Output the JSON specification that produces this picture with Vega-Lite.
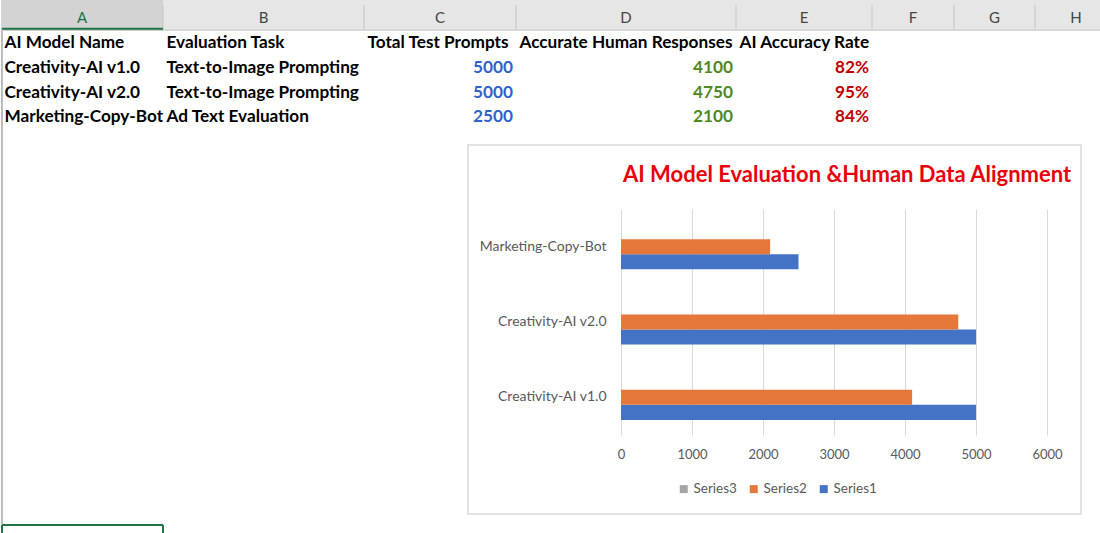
{
  "$schema": "https://vega.github.io/schema/vega-lite/v6.json",
  "width": 1100,
  "height": 533,
  "autosize": {"type": "fit", "contains": "padding"},
  "padding": 0,
  "background": "#ffffff",
  "config": {"view": {"stroke": null}, "font": "Lato"},
  "datasets": {
    "columns": [
      {"c": 1, "letter": "A"}, {"c": 2, "letter": "B"}, {"c": 3, "letter": "C"}, {"c": 4, "letter": "D"},
      {"c": 5, "letter": "E"}, {"c": 6, "letter": "F"}, {"c": 7, "letter": "G"}, {"c": 8, "letter": "H"}
    ],
    "headers": [
      {"c": 1, "label": "AI Model Name"},
      {"c": 2, "label": "Evaluation Task"},
      {"c": 3, "label": "Total Test Prompts"},
      {"c": 4, "label": "Accurate Human Responses"},
      {"c": 5, "label": "AI Accuracy Rate"}
    ],
    "table": [
      {"r": 2, "model": "Creativity-AI v1.0", "task": "Text-to-Image Prompting", "prompts": 5000, "responses": 4100, "rate": 0.82},
      {"r": 3, "model": "Creativity-AI v2.0", "task": "Text-to-Image Prompting", "prompts": 5000, "responses": 4750, "rate": 0.95},
      {"r": 4, "model": "Marketing-Copy-Bot", "task": "Ad Text Evaluation", "prompts": 2500, "responses": 2100, "rate": 0.84}
    ],
    "bars": [
      {"model": "Creativity-AI v1.0", "series": "Series1", "value": 5000},
      {"model": "Creativity-AI v1.0", "series": "Series2", "value": 4100},
      {"model": "Creativity-AI v2.0", "series": "Series1", "value": 5000},
      {"model": "Creativity-AI v2.0", "series": "Series2", "value": 4750},
      {"model": "Marketing-Copy-Bot", "series": "Series1", "value": 2500},
      {"model": "Marketing-Copy-Bot", "series": "Series2", "value": 2100}
    ],
    "one": [{}]
  },
  "layer": [
    {
      "layer": [
        {
          "data": {"name": "columns"},
          "transform": [{"calculate": "datum.c + 1", "as": "c2"}],
          "mark": {"type": "rect"},
          "encoding": {
            "x": {"field": "c", "type": "quantitative", "axis": null, "scale": {"domain": [1,2,3,4,5,6,7,8,9], "range": [0,162,363,515,735,871,953,1034,1116], "nice": false, "zero": false}},
            "x2": {"field": "c2"},
            "y": {"datum": -0.5, "type": "quantitative", "axis": null, "scale": {"domain": [-0.5, 0.5, 20.5], "range": [0, 31, 525], "nice": false, "zero": false}},
            "y2": {"datum": 0.5},
            "fill": {"condition": {"test": "datum.letter === 'A'", "value": "#d3d3d3"}, "value": "#e6e6e6"}
          }
        },
        {
          "data": {"name": "columns"},
          "transform": [{"calculate": "datum.c + 1", "as": "c2"}],
          "mark": {"type": "rule", "color": "#c4c4c4", "strokeWidth": 1},
          "encoding": {
            "x": {"field": "c2", "type": "quantitative", "axis": null, "scale": {"domain": [1,2,3,4,5,6,7,8,9], "range": [0,162,363,515,735,871,953,1034,1116], "nice": false, "zero": false}},
            "y": {"datum": -0.34, "type": "quantitative", "axis": null, "scale": {"domain": [-0.5, 0.5, 20.5], "range": [0, 31, 525], "nice": false, "zero": false}},
            "y2": {"datum": 0.45}
          }
        },
        {
          "data": {"name": "one"},
          "mark": {"type": "rule", "color": "#c8c8c8", "strokeWidth": 1},
          "encoding": {
            "x": {"datum": 1, "type": "quantitative", "axis": null, "scale": {"domain": [1,2,3,4,5,6,7,8,9], "range": [0,162,363,515,735,871,953,1034,1116], "nice": false, "zero": false}},
            "x2": {"datum": 8.9},
            "y": {"datum": 0.47, "type": "quantitative", "axis": null, "scale": {"domain": [-0.5, 0.5, 20.5], "range": [0, 31, 525], "nice": false, "zero": false}}
          }
        },
        {
          "data": {"name": "one"},
          "mark": {"type": "rule", "color": "#217346", "strokeWidth": 2},
          "encoding": {
            "x": {"datum": 1.006, "type": "quantitative", "axis": null, "scale": {"domain": [1,2,3,4,5,6,7,8,9], "range": [0,162,363,515,735,871,953,1034,1116], "nice": false, "zero": false}},
            "x2": {"datum": 2},
            "y": {"datum": 0.43, "type": "quantitative", "axis": null, "scale": {"domain": [-0.5, 0.5, 20.5], "range": [0, 31, 525], "nice": false, "zero": false}}
          }
        },
        {
          "data": {"name": "columns"},
          "transform": [{"calculate": "datum.c + 0.5", "as": "cm"}],
          "mark": {"type": "text", "fontSize": 15, "align": "center", "baseline": "middle", "dy": 2},
          "encoding": {
            "x": {"field": "cm", "type": "quantitative", "axis": null, "scale": {"domain": [1,2,3,4,5,6,7,8,9], "range": [0,162,363,515,735,871,953,1034,1116], "nice": false, "zero": false}},
            "y": {"datum": 0, "type": "quantitative", "axis": null, "scale": {"domain": [-0.5, 0.5, 20.5], "range": [0, 31, 525], "nice": false, "zero": false}},
            "text": {"field": "letter"},
            "color": {"condition": {"test": "datum.letter === 'A'", "value": "#217346"}, "value": "#444444"}
          }
        },
        {
          "data": {"name": "headers"},
          "mark": {"type": "text", "fontSize": 17.2, "fontWeight": "bold", "align": "left", "baseline": "middle", "dx": 3.5, "color": "#000000"},
          "encoding": {
            "x": {"field": "c", "type": "quantitative", "axis": null, "scale": {"domain": [1,2,3,4,5,6,7,8,9], "range": [0,162,363,515,735,871,953,1034,1116], "nice": false, "zero": false}},
            "y": {"datum": 1, "type": "quantitative", "axis": null, "scale": {"domain": [-0.5, 0.5, 20.5], "range": [0, 31, 525], "nice": false, "zero": false}},
            "text": {"field": "label"}
          }
        },
        {
          "data": {"name": "table"},
          "mark": {"type": "text", "fontSize": 17.2, "fontWeight": "bold", "align": "left", "baseline": "middle", "dx": 3.5, "color": "#000000"},
          "encoding": {
            "x": {"datum": 1, "type": "quantitative", "axis": null, "scale": {"domain": [1,2,3,4,5,6,7,8,9], "range": [0,162,363,515,735,871,953,1034,1116], "nice": false, "zero": false}},
            "y": {"field": "r", "type": "quantitative", "axis": null, "scale": {"domain": [-0.5, 0.5, 20.5], "range": [0, 31, 525], "nice": false, "zero": false}},
            "text": {"field": "model"}
          }
        },
        {
          "data": {"name": "table"},
          "mark": {"type": "text", "fontSize": 17.2, "fontWeight": "bold", "align": "left", "baseline": "middle", "dx": 3.5, "color": "#000000"},
          "encoding": {
            "x": {"datum": 2, "type": "quantitative", "axis": null, "scale": {"domain": [1,2,3,4,5,6,7,8,9], "range": [0,162,363,515,735,871,953,1034,1116], "nice": false, "zero": false}},
            "y": {"field": "r", "type": "quantitative", "axis": null, "scale": {"domain": [-0.5, 0.5, 20.5], "range": [0, 31, 525], "nice": false, "zero": false}},
            "text": {"field": "task"}
          }
        },
        {
          "data": {"name": "table"},
          "mark": {"type": "text", "fontSize": 17.2, "fontWeight": "bold", "align": "right", "baseline": "middle", "dx": -3, "color": "#2f63c9"},
          "encoding": {
            "x": {"datum": 4, "type": "quantitative", "axis": null, "scale": {"domain": [1,2,3,4,5,6,7,8,9], "range": [0,162,363,515,735,871,953,1034,1116], "nice": false, "zero": false}},
            "y": {"field": "r", "type": "quantitative", "axis": null, "scale": {"domain": [-0.5, 0.5, 20.5], "range": [0, 31, 525], "nice": false, "zero": false}},
            "text": {"field": "prompts", "type": "quantitative", "format": "d"}
          }
        },
        {
          "data": {"name": "table"},
          "mark": {"type": "text", "fontSize": 17.2, "fontWeight": "bold", "align": "right", "baseline": "middle", "dx": -3, "color": "#4e8a1f"},
          "encoding": {
            "x": {"datum": 5, "type": "quantitative", "axis": null, "scale": {"domain": [1,2,3,4,5,6,7,8,9], "range": [0,162,363,515,735,871,953,1034,1116], "nice": false, "zero": false}},
            "y": {"field": "r", "type": "quantitative", "axis": null, "scale": {"domain": [-0.5, 0.5, 20.5], "range": [0, 31, 525], "nice": false, "zero": false}},
            "text": {"field": "responses", "type": "quantitative", "format": "d"}
          }
        },
        {
          "data": {"name": "table"},
          "mark": {"type": "text", "fontSize": 17.2, "fontWeight": "bold", "align": "right", "baseline": "middle", "dx": -3, "color": "#c00000"},
          "encoding": {
            "x": {"datum": 6, "type": "quantitative", "axis": null, "scale": {"domain": [1,2,3,4,5,6,7,8,9], "range": [0,162,363,515,735,871,953,1034,1116], "nice": false, "zero": false}},
            "y": {"field": "r", "type": "quantitative", "axis": null, "scale": {"domain": [-0.5, 0.5, 20.5], "range": [0, 31, 525], "nice": false, "zero": false}},
            "text": {"field": "rate", "type": "quantitative", "format": ".0%"}
          }
        },
        {
          "data": {"name": "one"},
          "mark": {"type": "rule", "color": "#a6a6a6", "strokeWidth": 1.5},
          "encoding": {
            "x": {"datum": 1.006, "type": "quantitative", "axis": null, "scale": {"domain": [1,2,3,4,5,6,7,8,9], "range": [0,162,363,515,735,871,953,1034,1116], "nice": false, "zero": false}},
            "y": {"datum": 0.5, "type": "quantitative", "axis": null, "scale": {"domain": [-0.5, 0.5, 20.5], "range": [0, 31, 525], "nice": false, "zero": false}},
            "y2": {"datum": 20.46}
          }
        },
        {
          "data": {"name": "one"},
          "mark": {"type": "rule", "color": "#217346", "strokeWidth": 2},
          "encoding": {
            "x": {"datum": 1.006, "type": "quantitative", "axis": null, "scale": {"domain": [1,2,3,4,5,6,7,8,9], "range": [0,162,363,515,735,871,953,1034,1116], "nice": false, "zero": false}},
            "x2": {"datum": 2},
            "y": {"datum": 20.5, "type": "quantitative", "axis": null, "scale": {"domain": [-0.5, 0.5, 20.5], "range": [0, 31, 525], "nice": false, "zero": false}}
          }
        },
        {
          "data": {"name": "columns"},
          "transform": [{"filter": "datum.c <= 2"}, {"calculate": "datum.c === 1 ? 1.006 : 2", "as": "edge"}],
          "mark": {"type": "rule", "color": "#217346", "strokeWidth": 2},
          "encoding": {
            "x": {"field": "edge", "type": "quantitative", "axis": null, "scale": {"domain": [1,2,3,4,5,6,7,8,9], "range": [0,162,363,515,735,871,953,1034,1116], "nice": false, "zero": false}},
            "y": {"datum": 20.5, "type": "quantitative", "axis": null, "scale": {"domain": [-0.5, 0.5, 20.5], "range": [0, 31, 525], "nice": false, "zero": false}},
            "y2": {"datum": 20.82}
          }
        },
        {
          "data": {"name": "one"},
          "mark": {"type": "rect", "fill": null, "fillOpacity": 0, "stroke": "#d9d9d9", "strokeWidth": 1.5},
          "encoding": {
            "x": {"datum": 3.684, "type": "quantitative", "axis": null, "scale": {"domain": [1,2,3,4,5,6,7,8,9], "range": [0,162,363,515,735,871,953,1034,1116], "nice": false, "zero": false}},
            "x2": {"datum": 8.561},
            "y": {"datum": 5.115, "type": "quantitative", "axis": null, "scale": {"domain": [-0.5, 0.5, 20.5], "range": [0, 31, 525], "nice": false, "zero": false}},
            "y2": {"datum": 20.05}
          }
        },
        {
          "data": {"name": "one"},
          "mark": {"type": "text", "fontSize": 22, "fontWeight": "bold", "align": "left", "baseline": "middle", "color": "#e8000b", "text": "AI Model Evaluation &Human Data Alignment"},
          "encoding": {
            "x": {"datum": 4.486, "type": "quantitative", "axis": null, "scale": {"domain": [1,2,3,4,5,6,7,8,9], "range": [0,162,363,515,735,871,953,1034,1116], "nice": false, "zero": false}},
            "y": {"datum": 6.33, "type": "quantitative", "axis": null, "scale": {"domain": [-0.5, 0.5, 20.5], "range": [0, 31, 525], "nice": false, "zero": false}}
          }
        }
      ]
    },
    {
      "data": {"name": "bars"},
      "layer": [
        {
          "mark": {"type": "bar", "opacity": 0},
          "encoding": {
            "x": {
              "field": "value", "type": "quantitative",
              "scale": {"domain": [0, 6000], "range": [620, 1046], "nice": false},
              "axis": {"orient": "bottom", "offset": -96, "grid": false, "ticks": false, "tickSize": 0, "domain": false, "title": null, "labelPadding": 12, "labelFontSize": 13, "labelColor": "#595959", "labelFlush": false, "values": [0, 1000, 2000, 3000, 4000, 5000, 6000], "format": "d"}
            },
            "y": {
              "field": "model", "type": "nominal",
              "scale": {"domain": ["Marketing-Copy-Bot", "Creativity-AI v2.0", "Creativity-AI v1.0"], "range": [209, 435], "paddingInner": 0, "paddingOuter": 0},
              "axis": {"orient": "left", "offset": -620, "title": null, "domain": false, "ticks": false, "tickSize": 0, "labelPadding": 15, "labelFontSize": 14, "labelColor": "#595959", "grid": false}
            }
          }
        },
        {
          "mark": {"type": "bar"},
          "encoding": {
            "x": {
              "field": "value", "type": "quantitative",
              "scale": {"domain": [0, 6000], "range": [620, 1046], "nice": false},
              "axis": {"orient": "top", "grid": true, "gridColor": "#d9d9d9", "gridWidth": 1, "labels": false, "ticks": false, "domain": false, "title": null, "values": [0, 1000, 2000, 3000, 4000, 5000, 6000]}
            },
            "y": {
              "field": "model", "type": "nominal",
              "scale": {"domain": ["Marketing-Copy-Bot", "Creativity-AI v2.0", "Creativity-AI v1.0"], "range": [209, 435], "paddingInner": 0, "paddingOuter": 0},
              "axis": {"orient": "left", "offset": -620, "title": null, "domain": false, "ticks": false, "tickSize": 0, "labelPadding": 15, "labelFontSize": 14, "labelColor": "#595959", "grid": false}
            },
            "yOffset": {"field": "series", "type": "nominal", "scale": {"domain": ["Series3", "Series2", "Series1"], "paddingInner": 0, "paddingOuter": 1}},
            "color": {
              "field": "series", "type": "nominal",
              "scale": {"domain": ["Series3", "Series2", "Series1"], "range": ["#a5a5a5", "#e5773a", "#4472c4"]},
              "legend": {"orient": "none", "legendX": 676, "legendY": 482, "direction": "horizontal", "title": null, "symbolType": "square", "symbolSize": 64, "symbolStrokeWidth": 0, "labelFontSize": 13.5, "labelColor": "#595959", "labelOffset": 3, "columnPadding": 10}
            }
          }
        }
      ],
      "resolve": {"axis": {"x": "independent"}}
    }
  ],
  "resolve": {"scale": {"x": "independent", "y": "independent"}}
}
